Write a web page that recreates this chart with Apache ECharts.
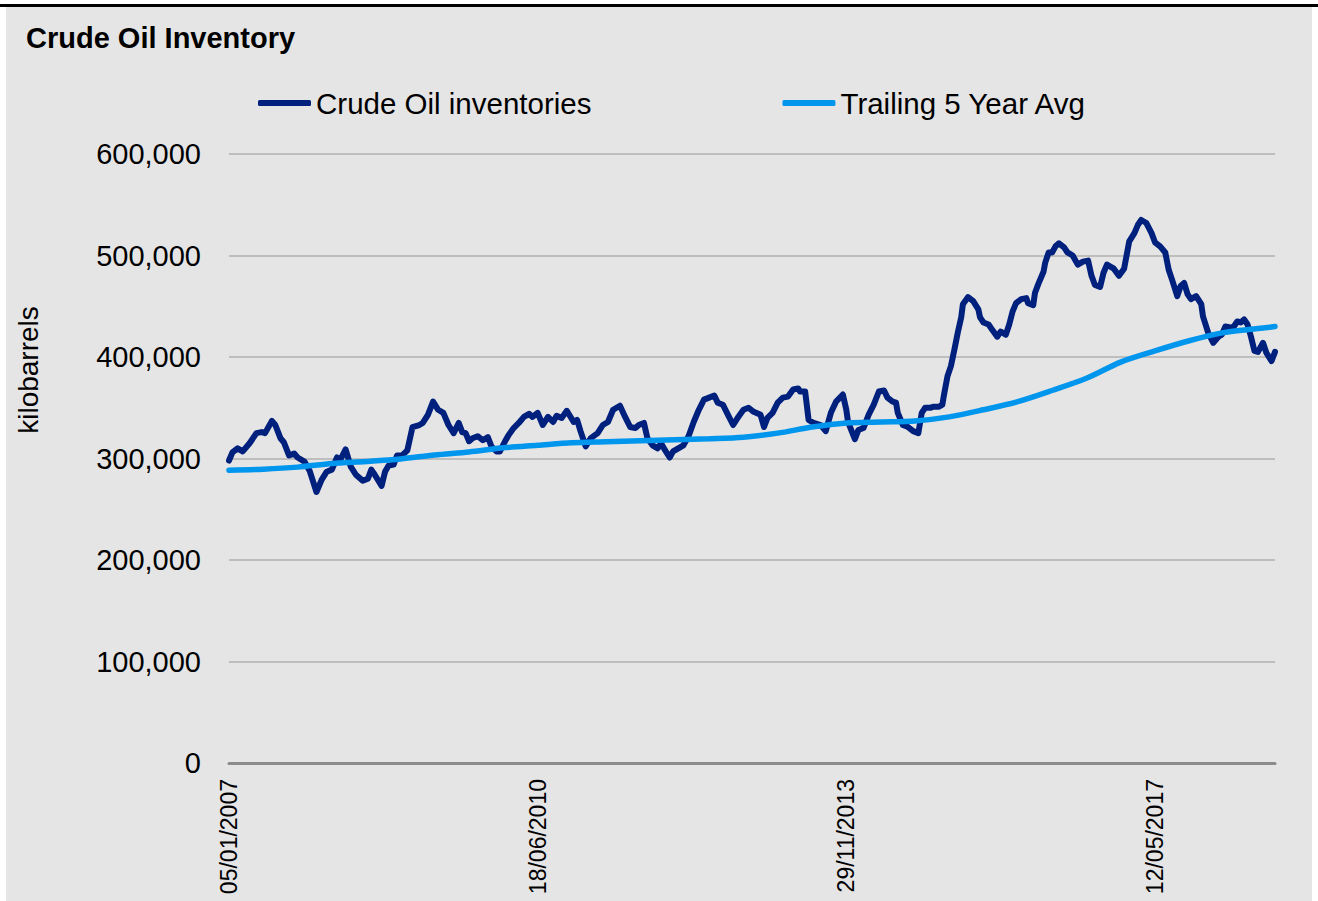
<!DOCTYPE html>
<html>
<head>
<meta charset="utf-8">
<title>Crude Oil Inventory</title>
<script src="https://cdn.jsdelivr.net/npm/echarts@6.0.0/dist/echarts.min.js"></script>
<style>
  html, body { margin: 0; padding: 0; background: #fff; }
  #topline { position: absolute; left: 0; top: 4px; width: 1318px; height: 3px; background: #000; }
  #chart { position: absolute; left: 6px; top: 7px; width: 1306px; height: 894px; background: #e5e5e5; }
</style>
</head>
<body>
<div id="topline"></div>
<div id="chart"></div>
<script>
// weeks counted from 05/01/2007
var tickWeeks = [0, 180, 360, 540];
var tickLabels = ['05/01/2007', '18/06/2010', '29/11/2013', '12/05/2017'];

// Crude Oil inventories, kilobarrels
var crudeWeeks = [
  0, 2, 5, 8, 12, 16, 19, 21, 25, 27, 30, 32, 35, 38, 40, 44, 47, 51, 54, 57,
  60, 63, 65, 68, 71, 74, 78, 81, 83, 85, 89, 91, 93, 96, 98, 101, 104, 107, 111, 113,
  116, 119, 122, 125, 128, 131, 134, 136, 138, 140, 142, 145, 148, 151, 153, 156, 158, 161, 163, 166,
  169, 172, 175, 177, 180, 183, 186, 189, 191, 194, 197, 201, 203, 205, 208, 211, 215, 218, 221, 224,
  228, 231, 234, 237, 239, 242, 244, 247, 250, 252, 254, 257, 259, 262, 265, 268, 271, 274, 277, 280,
  283, 285, 288, 291, 294, 297, 300, 303, 306, 310, 312, 314, 317, 320, 323, 326, 329, 332, 333, 336,
  338, 341, 345, 348, 351, 354, 358, 360, 361, 365, 367, 370, 373, 376, 379, 382, 384, 387, 389, 390,
  393, 396, 399, 402, 404, 406, 409, 411, 414, 416, 417, 419, 421, 423, 425, 427, 428, 431, 434, 437,
  438, 440, 443, 445, 448, 450, 453, 455, 457, 459, 462, 465, 466, 469, 470, 472, 475, 476, 478, 480,
  482, 484, 487, 489, 492, 495, 498, 501, 503, 505, 508, 510, 512, 516, 519, 522, 525, 528, 530, 532,
  535, 538, 540, 543, 546, 548, 550, 553, 555, 557, 559, 561, 564, 567, 568, 571, 574, 577, 579, 581,
  584, 586, 588, 590, 592, 594, 596, 598, 600, 603, 605, 608, 610
];
var crudeValues = [
  298000, 306000, 310000, 307000, 315000, 325000, 326000, 325000, 337000, 333000, 320000, 316000, 303000, 305000, 301000, 297000, 288000, 267000, 279000, 287000,
  289000, 301000, 299000, 309000, 292000, 284000, 278000, 280000, 289000, 284000, 273000, 287000, 293000, 294000, 303000, 303000, 308000, 331000, 333000, 335000,
  343000, 356000, 348000, 345000, 333000, 325000, 335000, 326000, 325000, 317000, 320000, 322000, 318000, 321000, 312000, 307000, 307000, 317000, 323000, 330000,
  335000, 341000, 344000, 341000, 345000, 333000, 341000, 336000, 342000, 340000, 347000, 336000, 338000, 327000, 312000, 320000, 325000, 333000, 336000, 348000,
  352000, 341000, 331000, 330000, 333000, 335000, 320000, 313000, 310000, 315000, 309000, 301000, 307000, 310000, 313000, 322000, 336000, 348000, 358000, 360000,
  362000, 355000, 353000, 343000, 333000, 341000, 348000, 350000, 346000, 343000, 331000, 340000, 345000, 355000, 360000, 361000, 368000, 369000, 366000, 366000,
  338000, 335000, 333000, 327000, 345000, 356000, 363000, 348000, 336000, 319000, 328000, 330000, 343000, 353000, 366000, 367000, 360000, 356000, 355000, 345000,
  333000, 331000, 327000, 325000, 345000, 350000, 350000, 351000, 351000, 353000, 363000, 381000, 391000, 407000, 424000, 439000, 452000, 459000, 455000, 447000,
  439000, 434000, 432000, 427000, 420000, 425000, 422000, 432000, 445000, 453000, 457000, 458000, 453000, 451000, 463000, 472000, 484000, 493000, 503000, 503000,
  509000, 512000, 508000, 503000, 500000, 491000, 494000, 495000, 480000, 471000, 469000, 483000, 491000, 487000, 480000, 487000, 514000, 522000, 530000, 535000,
  532000, 522000, 513000, 509000, 503000, 486000, 476000, 460000, 470000, 473000, 462000, 457000, 460000, 452000, 440000, 424000, 414000, 420000, 422000, 430000,
  429000, 430000, 435000, 434000, 437000, 432000, 420000, 406000, 405000, 414000, 404000, 396000, 405000
];

// Trailing 5 Year Avg, kilobarrels
var avgWeeks = [0, 20, 40, 60, 80, 100, 120, 140, 160, 180, 200, 220, 240, 260, 280, 300,
  320, 340, 360, 380, 400, 420, 440, 460, 480, 500, 520, 540, 560, 580, 600, 610];
var avgValues = [288500, 289500, 291500, 295000, 297000, 299500, 303500, 306500, 310500, 313000,
  315500, 316500, 317500, 318500, 319500, 321000, 325000, 331000, 335000, 336000, 337000,
  341000, 348000, 356000, 367000, 379000, 395000, 406000, 416000, 424000, 428000, 430000];

var yTicks = [0, 100000, 200000, 300000, 400000, 500000, 600000];

var font = '"Liberation Sans", Arial, sans-serif';

function pairs(xs, ys) {
  return xs.map(function (x, i) { return [x, ys[i]]; });
}

var chart = echarts.init(document.getElementById('chart'), null, { renderer: 'svg' });
chart.setOption({
  animation: false,
  title: {
    text: 'Crude Oil Inventory',
    left: 15, top: 11,
    textStyle: { fontFamily: font, fontSize: 29, fontWeight: 'bold', color: '#000' }
  },
  legend: {
    left: 247, top: 76,
    itemWidth: 53, itemHeight: 6, itemGap: 191,
    icon: 'roundRect',
    textStyle: { fontFamily: font, fontSize: 29.5, color: '#000' },
    data: ['Crude Oil inventories', 'Trailing 5 Year Avg']
  },
  graphic: [{
    type: 'text',
    x: 22, y: 363,
    rotation: Math.PI / 2,
    style: {
      text: 'kilobarrels', font: '28px ' + font, fill: '#000',
      textAlign: 'center', textVerticalAlign: 'middle'
    }
  }],
  grid: { left: 223, right: 37, top: 147, bottom: 138 },
  xAxis: {
    type: 'value',
    min: 0, max: 610, interval: 180,
    splitLine: { show: false },
    axisTick: { show: false },
    axisLine: { lineStyle: { color: '#8c8c8c', width: 3 } },
    axisLabel: {
      rotate: 90, margin: 16,
      fontFamily: font, fontSize: 23, color: '#000',
      formatter: function (v) {
        var i = tickWeeks.indexOf(v);
        return i >= 0 ? tickLabels[i] : '';
      }
    }
  },
  yAxis: {
    type: 'value',
    min: yTicks[0], max: yTicks[yTicks.length - 1], interval: 100000,
    axisLine: { show: false },
    axisTick: { show: false },
    splitLine: { lineStyle: { color: '#bebebe', width: 2 } },
    axisLabel: {
      margin: 28, fontFamily: font, fontSize: 29, color: '#000',
      formatter: function (v) { return v.toLocaleString('en-US'); }
    }
  },
  series: [
    {
      name: 'Crude Oil inventories',
      type: 'line',
      data: pairs(crudeWeeks, crudeValues),
      symbol: 'none',
      color: '#00207e',
      lineStyle: { width: 6, color: '#00207e', join: 'round', cap: 'round' },
      z: 3
    },
    {
      name: 'Trailing 5 Year Avg',
      type: 'line',
      data: pairs(avgWeeks, avgValues),
      symbol: 'none',
      smooth: 0.3,
      color: '#0096ee',
      lineStyle: { width: 5.5, color: '#0096ee', cap: 'round' },
      z: 4
    }
  ]
});
</script>
</body>
</html>
